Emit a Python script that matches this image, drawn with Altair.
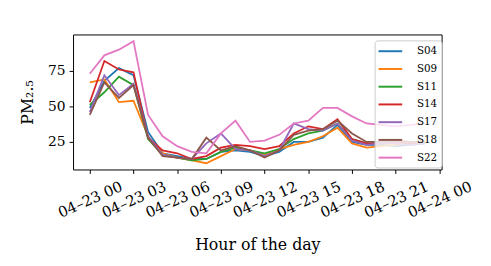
import altair as alt
import pandas as pd

hours = list(range(24))
S04 = [49, 68, 77, 72, 32, 17, 15, 13, 13, 18, 19, 18, 15, 18, 25, 25, 28, 37, 25, 23, 23, 22, 23, 24]
S09 = [67, 69, 53, 54, 29, 17, 14, 12, 10, 15, 20, 19, 16, 20, 23, 25, 29, 35, 24, 21, 22, 23, 24, 26]
S11 = [51, 60, 71, 65, 27, 16, 14, 12, 13, 18, 21, 19, 17, 20, 27, 31, 33, 38, 27, 24, 24, 24, 25, 24]
S14 = [53, 82, 76, 74, 28, 19, 17, 13, 15, 21, 23, 22, 20, 22, 31, 36, 34, 41, 27, 24, 24, 25, 24, 25]
S17 = [46, 72, 58, 66, 29, 16, 14, 13, 24, 31, 20, 19, 15, 19, 38, 34, 33, 38, 26, 23, 24, 24, 23, 24]
S18 = [44, 67, 56, 65, 28, 15, 14, 13, 28, 19, 22, 19, 14, 19, 30, 33, 34, 40, 31, 25, 25, 26, 25, 25]
S22 = [73, 86, 90, 96, 44, 29, 22, 18, 17, 31, 40, 25, 26, 30, 38, 40, 49, 49, 43, 38, 37, 36, 37, 38]

stations = ["S04", "S09", "S11", "S14", "S17", "S18", "S22"]
series = [S04, S09, S11, S14, S17, S18, S22]
colors = ["#1f77b4", "#ff7f0e", "#2ca02c", "#d62728", "#9467bd", "#8c564b", "#e377c2"]

x_tick_values = [0, 3, 6, 9, 12, 15, 18, 21, 24]
x_tick_labels = ["04–23 00", "04–23 03", "04–23 06", "04–23 09", "04–23 12",
                 "04–23 15", "04–23 18", "04–23 21", "04–24 00"]
y_tick_values = [25, 50, 75]

rows = []
for name, vals in zip(stations, series):
    for h, v in zip(hours, vals):
        rows.append({"hour": h, "value": v, "station": name})
df = pd.DataFrame(rows)

label_array = "[" + ",".join("'" + s + "'" for s in x_tick_labels) + "]"
FONT = "DejaVu Serif"

chart = alt.Chart(df).mark_line(strokeWidth=1.8).encode(
    x=alt.X("hour:Q",
            scale=alt.Scale(domain=[-1.15, 24.15], nice=False, zero=False),
            axis=alt.Axis(values=x_tick_values, labelExpr=label_array + "[round(datum.value/3)]",
                          title="Hour of the day", labelAngle=-24, labelAlign="center",
                          labelBaseline="middle", labelPadding=26, tickSize=4,
                          labelFontSize=15, labelOverlap=False, titlePadding=17,
                          titleFontSize=16)),
    y=alt.Y("value:Q",
            scale=alt.Scale(domain=[5.6, 100.7], nice=False, zero=False),
            axis=alt.Axis(values=y_tick_values, title="PM₂.₅", tickSize=4,
                          labelFontSize=14, labelPadding=4, titlePadding=12,
                          titleFontSize=16)),
    color=alt.Color("station:N",
                    scale=alt.Scale(domain=stations, range=colors),
                    legend=alt.Legend(title=None, orient="none", legendX=306, legendY=6,
                                      symbolType="M-2,0H2", symbolSize=144, symbolStrokeWidth=2,
                                      symbolOffset=5, symbolFillColor="transparent",
                                      labelFont=FONT, labelFontSize=10.5, labelOffset=20,
                                      rowPadding=5, padding=4, fillColor="rgba(255,255,255,0.8)",
                                      strokeColor="#cccccc", cornerRadius=3)),
).properties(
    width=374, height=137,
    autosize=alt.AutoSizeParams(type="none"),
    padding={"left": 66, "top": 25, "right": 42, "bottom": 90},
).configure_view(
    stroke="black", strokeWidth=1
).configure_axis(
    grid=False, domain=False, tickColor="black", labelColor="black", titleColor="black",
    labelFont=FONT, titleFont=FONT, labelFontSize=13, titleFontSize=15, titleFontWeight="normal"
)

chart.save("out.html", embed_options={"renderer": "svg", "actions": False})
